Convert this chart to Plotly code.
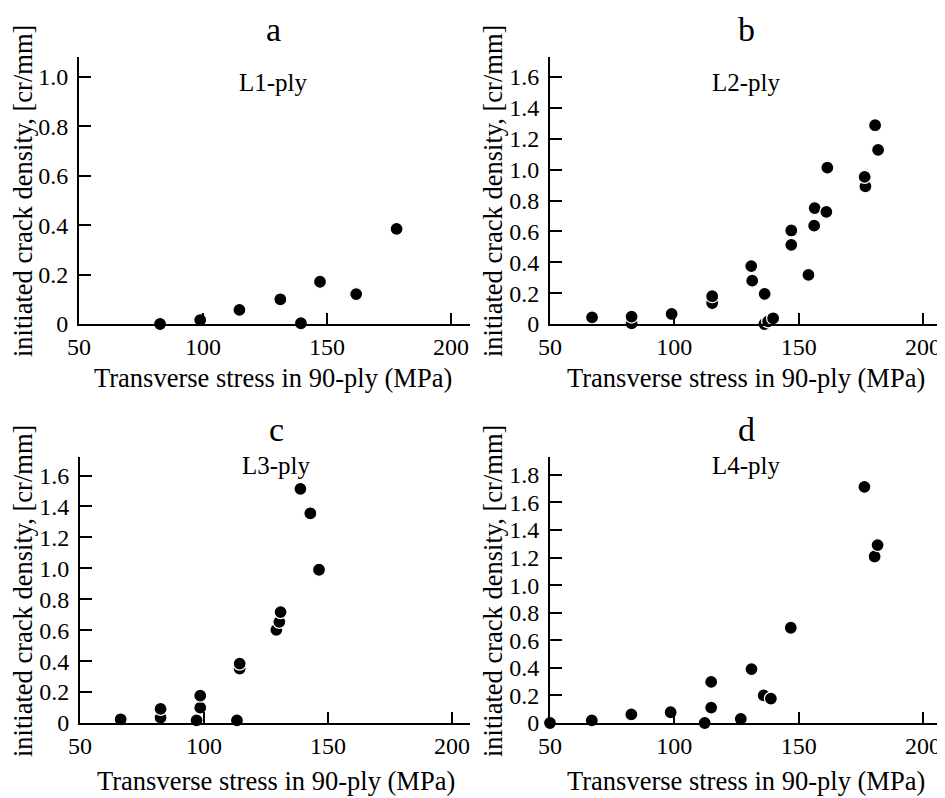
import plotly.graph_objects as go

# The page body has an 8px default margin; the figure is sized and placed to fit the window.
OFF = 8
W, H = 945 - OFF, 798 - OFF

# ---------------- data ----------------
a_x = [82.7, 98.9, 114.7, 131.2, 139.5, 147.2, 161.8, 178.1]
a_y = [0.0, 0.016, 0.057, 0.100, 0.003, 0.171, 0.121, 0.385]

b_x = [66.9, 82.8, 82.8, 98.9, 115.2, 115.2, 130.9, 131.3, 136.3, 136.2, 137.7, 139.7,
       147.0, 147.0, 153.9, 156.2, 156.4, 161.1, 161.5, 176.8, 176.5, 180.7, 181.9]
b_y = [0.043, 0.004, 0.048, 0.065, 0.136, 0.180, 0.375, 0.281, 0.195, 0.0, 0.017, 0.037,
       0.513, 0.606, 0.318, 0.637, 0.751, 0.727, 1.013, 0.892, 0.953, 1.288, 1.128]

c_x = [66.4, 82.5, 82.5, 97.0, 98.5, 98.5, 113.3, 114.4, 114.4, 129.2, 130.4, 130.9,
       138.9, 142.9, 146.4]
c_y = [0.024, 0.035, 0.091, 0.017, 0.099, 0.177, 0.017, 0.352, 0.384, 0.602, 0.654, 0.717,
       1.514, 1.356, 0.991]

d_x = [50.0, 66.8, 82.7, 98.5, 112.2, 114.8, 114.8, 126.7, 131.0, 135.9, 138.8, 146.8,
       176.4, 180.5, 181.7]
d_y = [0.0, 0.019, 0.063, 0.078, 0.0, 0.112, 0.298, 0.029, 0.391, 0.201, 0.177, 0.691,
       1.713, 1.208, 1.291]

panel_letters = ["a", "b", "c", "d"]
ply_labels = ["L1-ply", "L2-ply", "L3-ply", "L4-ply"]
x_ticks = [50, 100, 150, 200]
y_ticks_a = [0, 0.2, 0.4, 0.6, 0.8, 1.0]
y_ticks_bc = [0, 0.2, 0.4, 0.6, 0.8, 1.0, 1.2, 1.4, 1.6]
y_ticks_d = [0, 0.2, 0.4, 0.6, 0.8, 1.0, 1.2, 1.4, 1.6, 1.8]
x_title = "Transverse stress in 90-ply (MPa)"
y_title = "initiated crack density, [cr/mm]"

FONT = "Liberation Serif, Times New Roman, serif"

# ---------------- layout geometry (window pixels) ----------------
panels = [
    dict(x=a_x, y=a_y, left=79, right=470, top=57, bottom=324, xmax=207.7, ymax=1.08,
         yt=y_ticks_a, ytitle_x=23, ytitle_y=191, letter_y=29, ply_y=82, xt_y=378, cx=273),
    dict(x=b_x, y=b_y, left=550, right=945, top=57, bottom=324, xmax=208.8, ymax=1.73,
         yt=y_ticks_bc, ytitle_x=493, ytitle_y=191, letter_y=29, ply_y=82, xt_y=378, cx=746),
    dict(x=c_x, y=c_y, left=80, right=470, top=457, bottom=723, xmax=207.3, ymax=1.72,
         yt=y_ticks_bc, ytitle_x=23, ytitle_y=591, letter_y=430, ply_y=465, xt_y=781, cx=276),
    dict(x=d_x, y=d_y, left=550, right=945, top=457, bottom=723, xmax=208.8, ymax=1.93,
         yt=y_ticks_d, ytitle_x=493, ytitle_y=591, letter_y=430, ply_y=465, xt_y=781, cx=746),
]

def px(xp):
    return (xp - OFF) / W

def py(yp):
    return 1 - (yp - OFF) / H

fig = go.Figure()
annotations = []
layout_axes = {}

for i, p in enumerate(panels):
    n = i + 1
    xa = "x" if n == 1 else f"x{n}"
    ya = "y" if n == 1 else f"y{n}"
    fig.add_trace(go.Scatter(
        x=p["x"], y=p["y"], mode="markers", xaxis=xa, yaxis=ya,
        marker=dict(color="black", size=13, line=dict(color="white", width=1.2)),
        cliponaxis=False, showlegend=False, hoverinfo="x+y",
    ))
    xkey = "xaxis" if n == 1 else f"xaxis{n}"
    ykey = "yaxis" if n == 1 else f"yaxis{n}"
    layout_axes[xkey] = dict(
        domain=[px(p["left"]), min(1.0, px(p["right"]))], anchor=ya, automargin=False,
        range=[50, p["xmax"]], tickvals=x_ticks, ticktext=[str(v) for v in x_ticks],
        showline=True, linecolor="black", linewidth=2, ticks="inside", ticklen=11,
        tickwidth=2, tickcolor="black", showgrid=False, zeroline=False,
        tickfont=dict(family=FONT, size=24, color="black"), ticklabelstandoff=0,
    )
    layout_axes[ykey] = dict(
        domain=[py(p["bottom"]), py(p["top"])], anchor=xa, automargin=False,
        range=[0, p["ymax"]], tickvals=p["yt"],
        ticktext=["0" if v == 0 else f"{v:.1f}" for v in p["yt"]],
        showline=True, linecolor="black", linewidth=2, ticks="inside", ticklen=12,
        tickwidth=2, tickcolor="black", showgrid=False, zeroline=False,
        tickfont=dict(family=FONT, size=24, color="black"), ticklabelstandoff=4,
    )
    annotations.append(dict(text=panel_letters[i], x=px(p["cx"]), y=py(p["letter_y"]),
                            xref="paper", yref="paper", showarrow=False,
                            xanchor="center", yanchor="middle",
                            font=dict(family=FONT, size=34, color="black")))
    annotations.append(dict(text=ply_labels[i], x=px(p["cx"]), y=py(p["ply_y"]),
                            xref="paper", yref="paper", showarrow=False,
                            xanchor="center", yanchor="middle",
                            font=dict(family=FONT, size=25, color="black")))
    annotations.append(dict(text=x_title, x=px(p["cx"]), y=py(p["xt_y"]),
                            xref="paper", yref="paper", showarrow=False,
                            xanchor="center", yanchor="middle",
                            font=dict(family=FONT, size=26.5, color="black")))
    annotations.append(dict(text=y_title, x=px(p["ytitle_x"]), y=py(p["ytitle_y"]),
                            xref="paper", yref="paper", showarrow=False, textangle=-90,
                            xanchor="center", yanchor="middle",
                            font=dict(family=FONT, size=26.5, color="black")))

fig.update_layout(
    width=W, height=H, margin=dict(l=0, r=0, t=0, b=0),
    paper_bgcolor="white", plot_bgcolor="white",
    annotations=annotations, **layout_axes,
)

fig.write_html("out.html")
